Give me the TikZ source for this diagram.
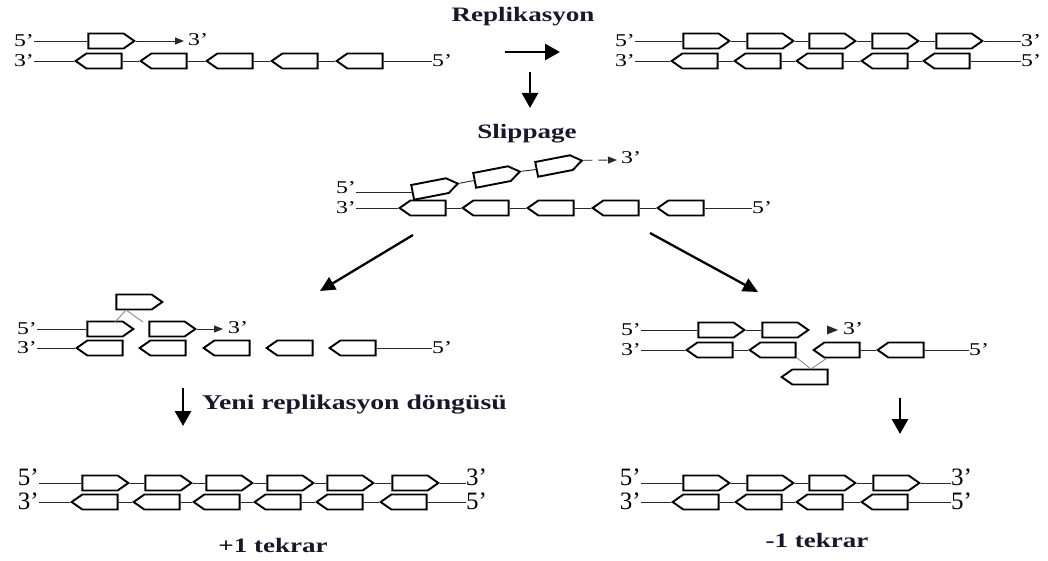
\documentclass[tikz,border=0pt]{standalone}
\usepackage{fontspec}
\setmainfont{Liberation Serif}
\newfontfamily\widefont[FakeStretch=1.32]{Liberation Serif}
\usetikzlibrary{shapes.symbols,arrows.meta}
\definecolor{ink}{RGB}{24,24,44}
\definecolor{thread}{RGB}{40,40,40}

\tikzset{
  unit/.style={signal, draw=black, line width=1.9pt, minimum width=46pt,
    minimum height=15pt, inner sep=0pt, signal pointer angle=70},
  fwd/.style={unit, signal to=east},
  rev/.style={unit, signal to=west},
  strand/.style={draw=thread, line width=0.9pt},
  loopline/.style={draw=gray, line width=0.8pt},
  tip/.style={-{Triangle[length=9pt,width=7pt]}},
  endlbl/.style={font=\widefont\fontsize{18}{18}\selectfont, inner sep=0pt},
  biglbl/.style={font=\fontsize{25}{25}\selectfont, inner sep=0pt},
  caption/.style={font=\widefont\bfseries\fontsize{20.5}{24}\selectfont, text=ink, inner sep=0pt},
  bigarrow/.style={line width=2.8pt, -{Triangle[length=15pt,width=16pt]}},
  diagarrow/.style={line width=2.3pt, -{Triangle[length=15pt,width=14pt]}}
}

\begin{document}
\begin{tikzpicture}[x=1pt,y=-1pt]
\useasboundingbox (0,0) rectangle (1048,561);

% ---------- captions ----------
\node[caption] (rep) at (523,17) {Replikasyon};
\node[caption] (slip) at (527,134) {Slippage};
\node[caption, anchor=west, font=\widefont\bfseries\fontsize{21}{24}\selectfont] (cycle) at (202,405) {Yeni replikasyon döngüsü};
\node[caption] (plus) at (273,545) {+1 tekrar};
\node[caption] (minus) at (817,540) {-1 tekrar};

% ---------- process arrows ----------
\coordinate (ra) at (505,52);  \coordinate (rb) at (560,52);
\coordinate (da) at (530,72);  \coordinate (db) at (530,108);
\coordinate (la) at (413,235); \coordinate (lb) at (320,291);
\coordinate (qa) at (650,233); \coordinate (qb) at (758,292);
\coordinate (ya) at (183,388); \coordinate (yb) at (183,426);
\coordinate (za) at (900,398); \coordinate (zb) at (900,434);
\draw[bigarrow] (ra) -- (rb);
\draw[bigarrow] (da) -- (db);
\draw[diagarrow] (la) -- (lb);
\draw[diagarrow] (qa) -- (qb);
\draw[bigarrow] (ya) -- (yb);
\draw[bigarrow] (za) -- (zb);

% ---------- A: replication under way ----------
\node[endlbl, anchor=east] (a5) at (34,41) {5’};
\node[endlbl, anchor=east] (a3) at (34,61) {3’};
\node[fwd] (at1) at (106,41) {};
\coordinate (aend) at (184,41);
\node[endlbl, anchor=west] (a3r) at (188,40) {3’};
\foreach \x [count=\i] in {104,169,235,300,365} \node[rev] (ab\i) at (\x,61) {};
\node[endlbl, anchor=west] (a5r) at (432,61) {5’};
\draw[strand] (a5.east |- at1.west) -- (at1.west);
\draw[strand, tip] (at1.east) -- (aend);
\draw[strand] (a3.east |- ab1.west) -- (ab1.west);
\foreach \i/\j in {1/2,2/3,3/4,4/5} \draw[strand] (ab\i.east) -- (ab\j.west);
\draw[strand] (ab5.east) -- (a5r.west |- ab5.east);

% ---------- B: completed replication ----------
\node[endlbl, anchor=east] (b5) at (635,41) {5’};
\node[endlbl, anchor=east] (b3) at (635,61) {3’};
\foreach \x [count=\i] in {701,765,827,890,954} \node[fwd] (bt\i) at (\x,41) {};
\foreach \x [count=\i] in {700,763,825,890,952} \node[rev] (bb\i) at (\x,61) {};
\node[endlbl, anchor=west] (b3r) at (1021,41) {3’};
\node[endlbl, anchor=west] (b5r) at (1021,61) {5’};
\draw[strand] (b5.east |- bt1.west) -- (bt1.west);
\draw[strand] (b3.east |- bb1.west) -- (bb1.west);
\foreach \i/\j in {1/2,2/3,3/4,4/5} {
  \draw[strand] (bt\i.east) -- (bt\j.west);
  \draw[strand] (bb\i.east) -- (bb\j.west);
}
\draw[strand] (bt5.east) -- (b3r.west |- bt5.east);
\draw[strand] (bb5.east) -- (b5r.west |- bb5.east);

% ---------- C: slipped strand ----------
\node[endlbl, anchor=east] (c5) at (356,188) {5’};
\node[endlbl, anchor=east] (c3) at (356,208) {3’};
\node[fwd, rotate=11] (ct1) at (430,189) {};
\node[fwd, rotate=11] (ct2) at (492,177) {};
\node[fwd, rotate=11] (ct3) at (554,166) {};
\coordinate (cend) at (617,160);
\node[endlbl, anchor=west] (c3r) at (621,158) {3’};
\foreach \x [count=\i] in {428,491,556,621,686} \node[rev] (cb\i) at (\x,208) {};
\node[endlbl, anchor=west] (c5r) at (752,208) {5’};
\draw[strand] (c5.east |- ct1.west) -- (ct1.west);
\draw[strand] (ct1.east) -- (ct2.west);
\draw[strand] (ct2.east) -- (ct3.west);
\draw[strand, tip, dash pattern=on 9pt off 6pt] (ct3.east) -- (cend);
\draw[strand] (c3.east |- cb1.west) -- (cb1.west);
\foreach \i/\j in {1/2,2/3,3/4,4/5} \draw[strand] (cb\i.east) -- (cb\j.west);
\draw[strand] (cb5.east) -- (c5r.west |- cb5.east);

% ---------- D: loop on the new strand ----------
\node[endlbl, anchor=east] (d5) at (37,329) {5’};
\node[endlbl, anchor=east] (d3) at (37,348) {3’};
\node[fwd] (dt1) at (105,329) {};
\node[fwd] (dt2) at (167,329) {};
\node[fwd] (dloop) at (134,302) {};
\coordinate (dend) at (223,329);
\node[endlbl, anchor=west] (d3r) at (228,328) {3’};
\foreach \x [count=\i] in {105,168,232,295,358} \node[rev] (db\i) at (\x,348) {};
\node[endlbl, anchor=west] (d5r) at (432,348) {5’};
\coordinate (dk) at (126,310);
\coordinate (dk1) at (115,322);
\coordinate (dk2) at (143,322);
\draw[loopline] (dk) -- (dk1);
\draw[loopline] (dk) -- (dk2);
\draw[strand] (d5.east |- dt1.west) -- (dt1.west);
\draw[strand, tip] (dt2.east) -- (dend);
\draw[strand] (d3.east |- db1.west) -- (db1.west);
\draw[strand] (db5.east) -- (d5r.west |- db5.east);

% ---------- E: loop on the template strand ----------
\node[endlbl, anchor=east] (e5) at (641,330) {5’};
\node[endlbl, anchor=east] (e3) at (641,350) {3’};
\node[fwd] (et1) at (716,330) {};
\node[fwd] (et2) at (780,330) {};
\node[endlbl, anchor=west] (e3r) at (843,329) {3’};
\foreach \x [count=\i] in {715,778,842,906} \node[rev] (eb\i) at (\x,350) {};
\node[rev] (eloop) at (810,377) {};
\node[endlbl, anchor=west] (e5r) at (969,350) {5’};
\fill[thread] (827,325.5) -- (838,330) -- (827,334.5) -- cycle;
\coordinate (ek) at (811,369);
\coordinate (ek1) at (797,358);
\coordinate (ek2) at (827,358);
\draw[loopline] (ek1) -- (ek);
\draw[loopline] (ek2) -- (ek);
\draw[strand] (e5.east |- et1.west) -- (et1.west);
\draw[strand] (et1.east) -- (et2.west);
\draw[strand] (e3.east |- eb1.west) -- (eb1.west);
\draw[strand] (eb1.east) -- (eb2.west);
\draw[strand] (eb3.east) -- (eb4.west);
\draw[strand] (eb4.east) -- (e5r.west |- eb4.east);

% ---------- F: one repeat gained ----------
\node[biglbl, anchor=east] (f5) at (39,477) {5’};
\node[biglbl, anchor=east] (f3) at (39,501) {3’};
\foreach \x [count=\i] in {100,163,224,285,345,410} \node[fwd] (ft\i) at (\x,483) {};
\foreach \x [count=\i] in {100,162,222,283,345,409} \node[rev] (fb\i) at (\x,502) {};
\node[biglbl, anchor=west] (f3r) at (466,477) {3’};
\node[biglbl, anchor=west] (f5r) at (466,501) {5’};
\draw[strand] (f5.east |- ft1.west) -- (ft1.west);
\draw[strand] (f3.east |- fb1.west) -- (fb1.west);
\foreach \i/\j in {1/2,2/3,3/4,4/5,5/6} {
  \draw[strand] (ft\i.east) -- (ft\j.west);
  \draw[strand] (fb\i.east) -- (fb\j.west);
}
\draw[strand] (ft6.east) -- (f3r.west |- ft6.east);
\draw[strand] (fb6.east) -- (f5r.west |- fb6.east);

% ---------- G: one repeat lost ----------
\node[biglbl, anchor=east] (g5) at (641,477) {5’};
\node[biglbl, anchor=east] (g3) at (641,501) {3’};
\foreach \x [count=\i] in {701,765,827,891} \node[fwd] (gt\i) at (\x,483) {};
\foreach \x [count=\i] in {701,764,825,890} \node[rev] (gb\i) at (\x,502) {};
\node[biglbl, anchor=west] (g3r) at (951,477) {3’};
\node[biglbl, anchor=west] (g5r) at (951,501) {5’};
\draw[strand] (g5.east |- gt1.west) -- (gt1.west);
\draw[strand] (g3.east |- gb1.west) -- (gb1.west);
\foreach \i/\j in {1/2,2/3,3/4} {
  \draw[strand] (gt\i.east) -- (gt\j.west);
  \draw[strand] (gb\i.east) -- (gb\j.west);
}
\draw[strand] (gt4.east) -- (g3r.west |- gt4.east);
\draw[strand] (gb4.east) -- (g5r.west |- gb4.east);
\end{tikzpicture}
\end{document}
